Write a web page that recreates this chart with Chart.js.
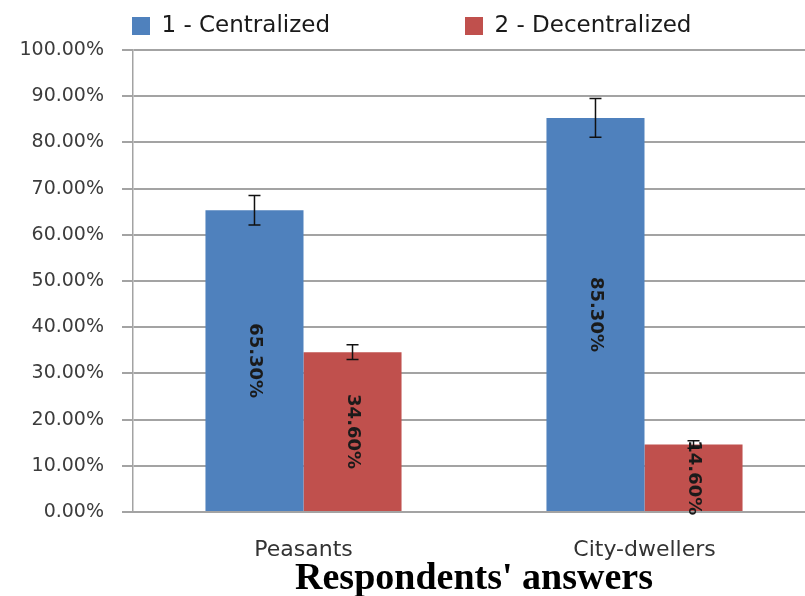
<!DOCTYPE html>
<html>
<head>
<meta charset="utf-8">
<script src="https://cdn.jsdelivr.net/npm/chart.js@4.4.0/dist/chart.umd.min.js"></script>
<style>
  html, body { margin: 0; padding: 0; background: #fff; overflow: hidden; }
  #wrap { width: 805px; height: 596px; overflow: hidden; }
</style>
</head>
<body>
<div id="wrap"><canvas id="chart" width="900" height="596"></canvas></div>
<script>
'use strict';

let categories = ['Peasants', 'City-dwellers'];
let seriesNames = ['1 - Centralized', '2 - Decentralized'];
let centralizedValues = [65.3, 85.3];
let decentralizedValues = [34.6, 14.6];
let centralizedErrors = [3.2, 4.2];
let decentralizedErrors = [1.6, 0.8];
let yTickValues = [0, 10, 20, 30, 40, 50, 60, 70, 80, 90, 100];
let xAxisTitle = 'Respondents\' answers';

let gridColor = '#a3a3a3';

// the wide item padding would make the legend tall, so cut its height back
let legendFitPlugin = {
  id: 'legendFit',
  afterInit(chart) {
    let fit = chart.legend.fit;
    chart.legend.fit = function () {
      fit.call(this);
      this.height = 170.5;
    };
  }
};

let barLabelPlugin = {
  id: 'barLabels',
  afterDatasetsDraw(chart) {
    let ctx = chart.ctx;
    ctx.save();
    ctx.font = 'bold 18px "DejaVu Sans", sans-serif';
    ctx.fillStyle = '#1a1a1a';
    ctx.textAlign = 'center';
    ctx.textBaseline = 'middle';
    chart.data.datasets.forEach((ds, i) => {
      chart.getDatasetMeta(i).data.forEach((bar, j) => {
        let p = bar.getProps(['x', 'y', 'base'], true);
        ctx.save();
        ctx.translate(p.x, (p.y + p.base) / 2);
        ctx.rotate(Math.PI / 2);
        ctx.fillText(ds.data[j].toFixed(2) + '%', 0, 0);
        ctx.restore();
      });
    });
    ctx.restore();
  }
};

let errorBarPlugin = {
  id: 'errorBars',
  afterDatasetsDraw(chart) {
    let ctx = chart.ctx;
    let yScale = chart.scales.y;
    ctx.save();
    ctx.strokeStyle = '#111';
    ctx.lineWidth = 1.5;
    chart.data.datasets.forEach((ds, i) => {
      chart.getDatasetMeta(i).data.forEach((bar, j) => {
        let x = bar.x;
        let top = yScale.getPixelForValue(ds.data[j] + ds.errors[j]);
        let bottom = yScale.getPixelForValue(ds.data[j] - ds.errors[j]);
        ctx.beginPath();
        ctx.moveTo(x, top);
        ctx.lineTo(x, bottom);
        ctx.moveTo(x - 6, top);
        ctx.lineTo(x + 6, top);
        ctx.moveTo(x - 6, bottom);
        ctx.lineTo(x + 6, bottom);
        ctx.stroke();
      });
    });
    ctx.restore();
  }
};

let ctx = document.getElementById('chart').getContext('2d');
// eslint-disable-next-line no-unused-vars
let chart = new Chart(ctx, {
  type: 'bar',
  data: {
    labels: categories,
    datasets: [{
      label: seriesNames[0],
      data: centralizedValues,
      errors: centralizedErrors,
      backgroundColor: '#4F81BD',
      borderWidth: 0,
      categoryPercentage: 0.575,
      barPercentage: 1.0
    }, {
      label: seriesNames[1],
      data: decentralizedValues,
      errors: decentralizedErrors,
      backgroundColor: '#C0504D',
      borderWidth: 0,
      categoryPercentage: 0.575,
      barPercentage: 1.0
    }]
  },
  options: {
    responsive: false,
    animation: false,
    layout: {
      padding: { left: -3, top: -120.5, right: 0, bottom: 0 }
    },
    plugins: {
      tooltip: { enabled: false },
      legend: {
        position: 'top',
        align: 'start',
        labels: {
          boxWidth: 18,
          boxHeight: 18,
          padding: 135,
          color: '#1a1a1a',
          font: { family: '"DejaVu Sans", sans-serif', size: 23 }
        }
      }
    },
    scales: {
      x: {
        grid: { display: false, drawTicks: false },
        border: { display: true, color: gridColor, width: 2 },
        ticks: {
          padding: 24.8,
          color: '#333',
          font: { family: '"DejaVu Sans", sans-serif', size: 22 }
        },
        title: {
          display: true,
          text: xAxisTitle,
          color: '#000',
          padding: { top: -26.2, bottom: 0 },
          font: { family: '"Liberation Serif", "Times New Roman", serif', size: 38, weight: 'bold', lineHeight: 0.9 }
        }
      },
      y: {
        min: 0,
        max: 100,
        afterBuildTicks(scale) {
          scale.ticks = yTickValues.map(v => ({ value: v }));
        },
        afterFit(scale) {
          scale.width = 136;
        },
        grid: { color: gridColor, lineWidth: 2, tickLength: 11, tickColor: gridColor },
        border: { display: true, color: gridColor, width: 1.5 },
        ticks: {
          padding: 18,
          color: '#3c3c3c',
          font: { family: '"DejaVu Sans", sans-serif', size: 19 },
          callback: v => v.toFixed(2) + '%'
        }
      },
      // empty right-hand strip past the window edge, so the legend row has room
      yRight: {
        position: 'right',
        display: true,
        grid: { display: false, drawTicks: false },
        border: { display: false },
        ticks: { display: false },
        afterFit(scale) {
          scale.width = 85;
        }
      }
    }
  },
  plugins: [legendFitPlugin, barLabelPlugin, errorBarPlugin]
});
</script>
</body>
</html>
